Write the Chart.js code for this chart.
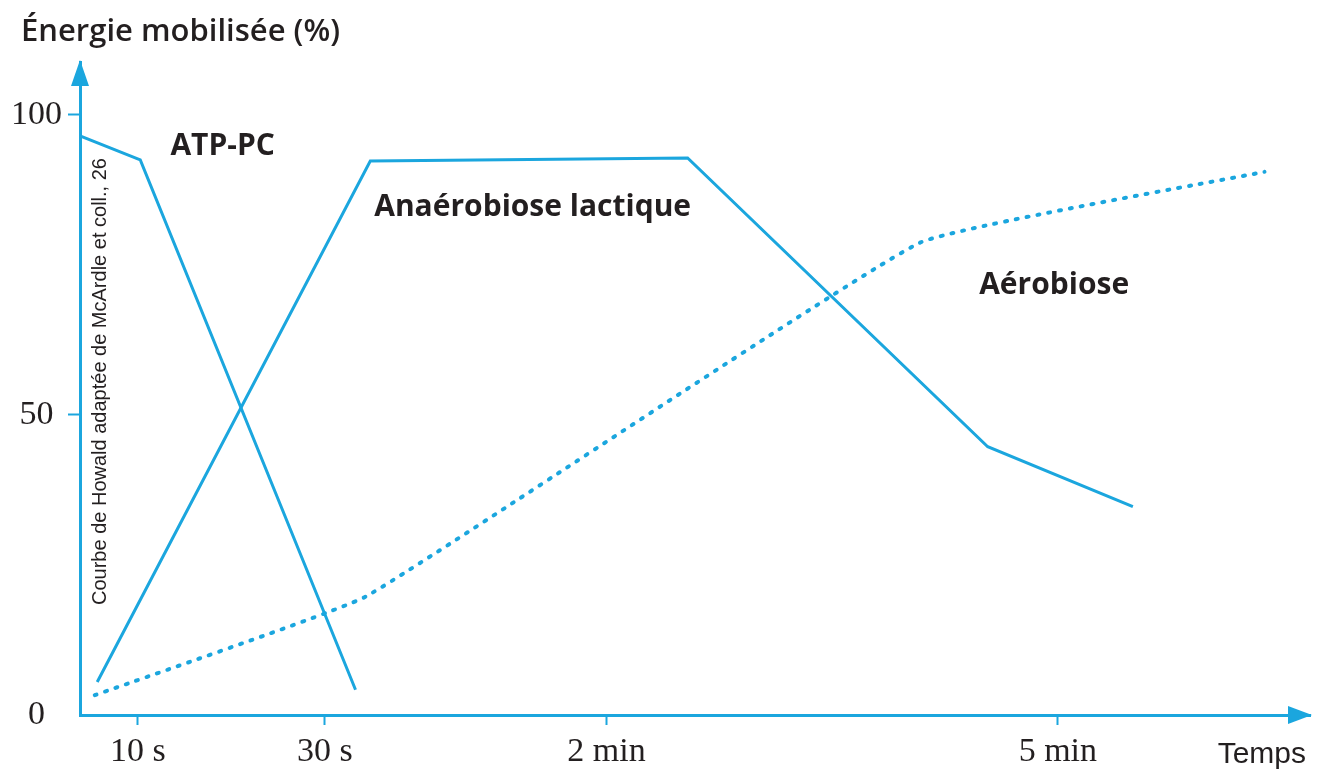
<!DOCTYPE html>
<html>
<head>
<meta charset="utf-8">
<script src="https://cdn.jsdelivr.net/npm/chart.js@4/dist/chart.umd.min.js"></script>
<style>
  html, body { margin: 0; padding: 0; background: #ffffff; }
  #wrap { width: 1325px; height: 776px; }
</style>
</head>
<body>
<div id="wrap"><canvas id="energy-chart" width="1325" height="776"></canvas></div>
<script>
// Values. The time axis is schematic, so x is a 0-100 position.
const timePositions = [4.7, 19.9, 42.8, 79.5];
const timeLabels = ['10 s', '30 s', '2 min', '5 min'];
const energyTicks = [0, 50, 100];

const atpX = [0, 4.9, 22.4];
const atpY = [96.5, 92.5, 4.2];

const lactiqueX = [1.4, 23.6, 49.4, 73.8, 85.6];
const lactiqueY = [5.5, 92.3, 92.8, 44.7, 34.7];

const aerobieX = [1.2, 23.2, 68.3, 96.3];
const aerobieY = [3.3, 19.7, 78.7, 90.5];

const lineColor = '#1ba6de';
const inkColor = '#231f20';

function toPoints(xs, ys) {
    return xs.map((x, i) => ({ x: x, y: ys[i] }));
}

// Arrows, titles and in-chart labels
const decorPlugin = {
    id: 'decor',
    afterDraw(chart) {
        const ctx = chart.ctx;
        const area = chart.chartArea;
        const xs = chart.scales.x;
        const ys = chart.scales.y;
        ctx.save();

        // arrow heads
        ctx.fillStyle = lineColor;
        ctx.beginPath();
        ctx.moveTo(area.left, area.top - 2);
        ctx.lineTo(area.left - 9, area.top + 24);
        ctx.lineTo(area.left + 9, area.top + 24);
        ctx.closePath();
        ctx.fill();
        ctx.beginPath();
        ctx.moveTo(area.right + 2, area.bottom);
        ctx.lineTo(area.right - 22, area.bottom - 9);
        ctx.lineTo(area.right - 22, area.bottom + 9);
        ctx.closePath();
        ctx.fill();

        ctx.fillStyle = inkColor;
        ctx.textBaseline = 'alphabetic';

        // axis titles
        ctx.textAlign = 'left';
        ctx.font = '600 31px "Open Sans"';
        ctx.fillText('Énergie mobilisée (%)', 21, 41);

        ctx.font = '30px "Liberation Sans Narrow", "Liberation Sans"';
        ctx.textAlign = 'right';
        ctx.fillText('Temps', 1306, 763);

        // series labels
        ctx.textAlign = 'center';
        ctx.font = 'bold 30px "Open Sans"';
        ctx.fillText('ATP-PC', xs.getPixelForValue(11.6), ys.getPixelForValue(93.3));
        ctx.fillText('Anaérobiose lactique', xs.getPixelForValue(36.8), ys.getPixelForValue(83.1));
        ctx.fillText('Aérobiose', xs.getPixelForValue(79.2), ys.getPixelForValue(70.2));

        // source credit, written upward along the y axis
        ctx.save();
        ctx.translate(106, 605);
        ctx.rotate(-Math.PI / 2);
        ctx.textAlign = 'left';
        ctx.font = '20px "Liberation Sans Narrow", "Liberation Sans"';
        ctx.fillText('Courbe de Howald adaptée de McArdle et coll., 26', 0, 0);
        ctx.restore();

        ctx.restore();
    }
};

const ctx = document.getElementById('energy-chart').getContext('2d');

const energyChart = new Chart(ctx, {
    type: 'line',
    data: {
        datasets: [
            {
                label: 'ATP-PC',
                data: toPoints(atpX, atpY),
                borderColor: lineColor,
                borderWidth: 3,
                pointRadius: 0,
                fill: false,
                tension: 0
            },
            {
                label: 'Anaérobiose lactique',
                data: toPoints(lactiqueX, lactiqueY),
                borderColor: lineColor,
                borderWidth: 3,
                pointRadius: 0,
                fill: false,
                tension: 0
            },
            {
                label: 'Aérobiose',
                data: toPoints(aerobieX, aerobieY),
                borderColor: lineColor,
                borderWidth: 4,
                borderDash: [2, 9],
                borderCapStyle: 'round',
                pointRadius: 0,
                fill: false,
                tension: 0.1
            }
        ]
    },
    options: {
        responsive: false,
        animation: false,
        devicePixelRatio: 1,
        layout: {
            padding: { left: 0, top: 62, right: 15, bottom: 0 }
        },
        plugins: {
            legend: { display: false },
            tooltip: { enabled: false },
            title: { display: false }
        },
        scales: {
            x: {
                type: 'linear',
                min: 0,
                max: 100,
                afterFit: scale => { scale.height = 61; },
                afterBuildTicks: scale => {
                    scale.ticks = timePositions.map(v => ({ value: v }));
                },
                border: { display: true, color: lineColor, width: 3 },
                grid: {
                    drawOnChartArea: false,
                    drawTicks: true,
                    tickLength: 10,
                    tickWidth: 2,
                    color: lineColor
                },
                ticks: {
                    autoSkip: false,
                    maxRotation: 0,
                    padding: 7,
                    color: inkColor,
                    font: { family: '"Liberation Serif"', size: 34 },
                    callback: (value) => timeLabels[timePositions.indexOf(value)]
                }
            },
            y: {
                type: 'linear',
                min: 0,
                max: 108.8,
                afterFit: scale => { scale.width = 80; },
                afterBuildTicks: scale => {
                    scale.ticks = energyTicks.map(v => ({ value: v }));
                },
                border: { display: true, color: lineColor, width: 3 },
                grid: {
                    drawOnChartArea: false,
                    drawTicks: true,
                    tickLength: 12,
                    tickWidth: 2,
                    color: c => (c.tick && c.tick.value === 0) ? 'rgba(0,0,0,0)' : lineColor
                },
                ticks: {
                    crossAlign: 'center',
                    padding: 6,
                    color: inkColor,
                    font: { family: '"Liberation Serif"', size: 34 },
                    callback: (value) => String(value)
                }
            }
        }
    },
    plugins: [decorPlugin]
});
</script>
</body>
</html>
